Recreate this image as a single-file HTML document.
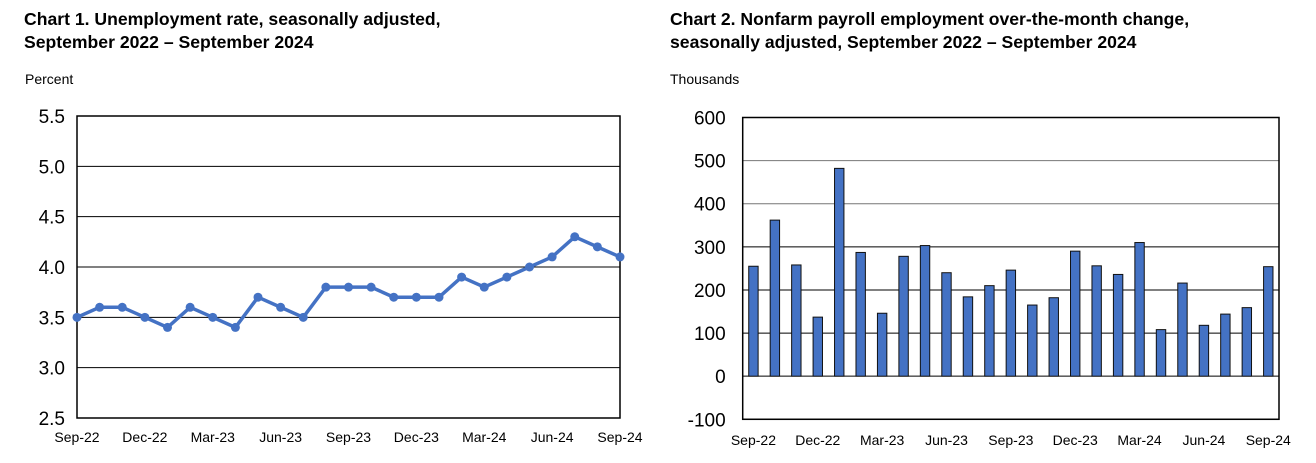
<!DOCTYPE html>
<html><head><meta charset="utf-8"><style>
body{margin:0;width:1316px;height:463px;background:#fff;font-family:"Liberation Sans",Arial,sans-serif;overflow:hidden}
svg{position:absolute;left:0;top:0}
</style></head><body>
<svg width="1316" height="463">
<g font-family="Liberation Sans, Arial, sans-serif">
<text x="24" y="25" font-size="17.6" font-weight="bold">Chart 1. Unemployment rate, seasonally adjusted,</text>
<text x="24" y="48" font-size="17.6" font-weight="bold">September 2022 – September 2024</text>
<text x="25" y="84" font-size="14">Percent</text>
<text x="670" y="25" font-size="17.6" font-weight="bold">Chart 2. Nonfarm payroll employment over-the-month change,</text>
<text x="670" y="48" font-size="17.6" font-weight="bold">seasonally adjusted, September 2022 – September 2024</text>
<text x="670" y="84" font-size="14">Thousands</text>
</g>
<g id="c1"></g><g id="c2"></g>
</svg>
<script>
const months=["Sep-22","Oct-22","Nov-22","Dec-22","Jan-23","Feb-23","Mar-23","Apr-23","May-23","Jun-23","Jul-23","Aug-23","Sep-23","Oct-23","Nov-23","Dec-23","Jan-24","Feb-24","Mar-24","Apr-24","May-24","Jun-24","Jul-24","Aug-24","Sep-24"];
const rates=[3.5,3.6,3.6,3.5,3.4,3.6,3.5,3.4,3.7,3.6,3.5,3.8,3.8,3.8,3.7,3.7,3.7,3.9,3.8,3.9,4.0,4.1,4.3,4.2,4.1];
const payrolls=[255,362,258,137,482,287,146,278,303,240,184,210,246,165,182,290,256,236,310,108,216,118,144,159,254];
const rateTicks=[2.5,3.0,3.5,4.0,4.5,5.0,5.5];
const payTicks=[-100,0,100,200,300,400,500,600];
const xLabelIdx=[0,3,6,9,12,15,18,21,24];
const NS="http://www.w3.org/2000/svg";
function mk(p,t,a){const e=document.createElementNS(NS,t);for(const k in a)e.setAttribute(k,a[k]);p.appendChild(e);return e;}
// chart 1
const g1=document.getElementById('c1');
const L1=77,R1=620,T1=116,B1=418;
const y1=v=>B1-(v-2.5)/3*(B1-T1);
const x1=i=>L1+i*(R1-L1)/(months.length-1);
rateTicks.forEach(v=>{
 const l=mk(g1,'line',{x1:L1,x2:R1,y1:y1(v),y2:y1(v),stroke:'#000','stroke-width':1});
 
 
 const t=mk(g1,'text',{x:L1-12,y:y1(v)+7,'text-anchor':'end','font-size':19});
 t.textContent=v.toFixed(1);
 
 
});
const b1=mk(g1,'rect',{x:L1,y:T1,width:R1-L1,height:B1-T1,fill:'none',stroke:'#000','stroke-width':1.5});


xLabelIdx.forEach(i=>{
 const t=mk(g1,'text',{x:x1(i),y:442,'text-anchor':'middle','font-size':14});
 t.textContent=months[i];
 
 
});
const pl=mk(g1,'polyline',{points:rates.map((v,i)=>x1(i)+','+y1(v)).join(' '),fill:'none',stroke:'#4472C4','stroke-width':3.5});


rates.forEach((v,i)=>{
 const c=mk(g1,'circle',{cx:x1(i),cy:y1(v),r:4.5,fill:'#4472C4'});
 
 
});
// chart 2
const g2=document.getElementById('c2');
const L2=742.7,R2=1279,T2=117.5,B2=419.3;
const y2=v=>B2-(v+100)/700*(B2-T2);
const bw=(R2-L2)/months.length;
const x2=i=>L2+(i+0.5)*bw;
payTicks.forEach(v=>{
 const l=mk(g2,'line',{x1:L2,x2:R2,y1:y2(v),y2:y2(v),stroke:(v==400||v==500)?'#777':'#000','stroke-width':1});
 
 
 const t=mk(g2,'text',{x:L2-17,y:y2(v)+7,'text-anchor':'end','font-size':19});
 t.textContent=v;
 
 
});
payrolls.forEach((v,i)=>{
 const r=mk(g2,'rect',{x:x2(i)-4.7,y:Math.min(y2(v),y2(0)),width:9.4,height:Math.abs(y2(0)-y2(v)),fill:'#4472C4',stroke:'#111','stroke-width':1});
 
 
});
const b2=mk(g2,'rect',{x:L2,y:T2,width:R2-L2,height:B2-T2,fill:'none',stroke:'#000','stroke-width':1.5});


xLabelIdx.forEach(i=>{
 const t=mk(g2,'text',{x:x2(i),y:445,'text-anchor':'middle','font-size':14});
 t.textContent=months[i];
 
 
});
</script>
</body></html>
